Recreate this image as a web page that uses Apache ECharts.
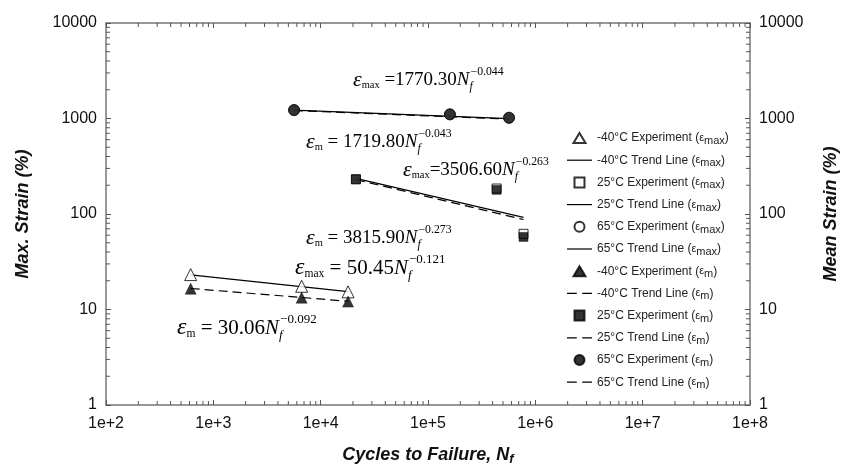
<!DOCTYPE html>
<html>
<head>
<meta charset="utf-8">
<title>Strain vs Cycles to Failure</title>
<script src="https://cdn.jsdelivr.net/npm/echarts@6/dist/echarts.min.js"></script>
<style>
  html, body { margin: 0; padding: 0; background: #fff; }
  #chart { width: 851px; height: 476px; }
</style>
</head>
<body>
<div id="chart"></div>
<script>
// -40°C experiments
const nCold = [615, 6650, 18000];
const maxCold = [23.2, 17.5, 15.3];
const meanCold = [16.5, 13.3, 12.1];
// 25°C experiments
const nRoom = [21300, 436000, 776000];
const maxRoom = [231, 185, 62];
const meanRoom = [231, 179, 57.5];
// 65°C experiments
const nHot = [5650, 160000, 569000];
const maxHot = [1225, 1105, 1020];
const meanHot = [1225, 1105, 1015];

// trend line end points
const trendColdN = [615, 18000];
const trendColdMax = [23.0, 15.4];
const trendColdMean = [16.6, 12.2];
const trendRoomN = [21300, 776000];
const trendRoomMax = [236, 92];
const trendRoomMean = [229, 87.5];
const trendHotN = [5650, 569000];
const trendHotMax = [1222, 995];
const trendHotMean = [1212, 985];

const legendNames = [
  '-40°C Experiment (εmax)', '-40°C Trend Line (εmax)',
  '25°C Experiment (εmax)', '25°C Trend Line (εmax)',
  '65°C Experiment (εmax)', '65°C Trend Line (εmax)',
  '-40°C Experiment (εm)', '-40°C Trend Line (εm)',
  '25°C Experiment (εm)', '25°C Trend Line (εm)',
  '65°C Experiment (εm)', '65°C Trend Line (εm)'
];

// minor tick positions (2..9 x 10^k)
const minorX = [];
for (let k = 2; k < 8; k++) for (let m = 2; m <= 9; m++) minorX.push(m * Math.pow(10, k));
const minorY = [];
for (let k = 0; k < 4; k++) for (let m = 2; m <= 9; m++) minorY.push(m * Math.pow(10, k));

const zip = (xs, ys) => xs.map((x, i) => [x, ys[i]]);

const axisColor = '#777';
const serif = '"Liberation Serif", "Times New Roman", serif';
const sans = '"Liberation Sans", Arial, sans-serif';

// legend icons: symbols for experiments, plain/dashed bars for trend lines
const triIcon = 'path://M6,0 L12,10 L0,10 Z';
const sqIcon = 'path://M0,0 h9 v9 h-9 z';
const solidIcon = 'path://M0,0 h25 v1.2 h-25 z';
const dashIcon = 'path://M0,0 h9 v1.2 h-9 z M14,0 h9 v1.2 h-9 z';
const legendIcons = [triIcon, solidIcon, sqIcon, solidIcon, 'circle', solidIcon,
  triIcon, dashIcon, sqIcon, dashIcon, 'circle', dashIcon];

function scatter(name, xs, ys, symbol, size, open) {
  return {
    name: name,
    type: 'scatter',
    data: zip(xs, ys),
    symbol: symbol,
    symbolSize: size,
    z: open ? 3 : 4,
    itemStyle: open
      ? { color: '#fff', borderColor: '#000', borderWidth: 1 }
      : { color: '#000', borderColor: '#000', borderWidth: 0.5 }
  };
}

function trend(name, xs, ys, dashed) {
  return {
    name: name,
    type: 'line',
    data: zip(xs, ys),
    symbol: 'none',
    z: 2,
    lineStyle: { color: '#000', width: 1.2, type: dashed ? [9, 5] : 'solid' },
    itemStyle: { color: '#000' }
  };
}

function tickSeries(values, isX) {
  return {
    type: 'custom',
    silent: true,
    clip: false,
    z: 1,
    data: values.map(v => isX ? [v, 1] : [100, v]),
    renderItem: function (params, api) {
      const style = { stroke: '#555', lineWidth: 1 };
      if (isX) {
        const v = api.value(0);
        const b = api.coord([v, 1]);
        const t = api.coord([v, 10000]);
        return { type: 'group', children: [
          { type: 'line', shape: { x1: b[0], y1: b[1], x2: b[0], y2: b[1] - 4 }, style: style },
          { type: 'line', shape: { x1: t[0], y1: t[1], x2: t[0], y2: t[1] + 4 }, style: style }
        ] };
      }
      const v = api.value(1);
      const l = api.coord([100, v]);
      const r = api.coord([1e8, v]);
      return { type: 'group', children: [
        { type: 'line', shape: { x1: l[0], y1: l[1], x2: l[0] + 4, y2: l[1] }, style: style },
        { type: 'line', shape: { x1: r[0], y1: r[1], x2: r[0] - 4, y2: r[1] }, style: style }
      ] };
    }
  };
}

// rich styles for the fitted equations
function eqRich(size) {
  return {
    e: { fontFamily: serif, fontStyle: 'italic', fontSize: size + 3, color: '#000' },
    s: { fontFamily: serif, fontSize: size * 0.55, padding: [size * 0.55, 0, 0, 0], color: '#000' },
    t: { fontFamily: serif, fontSize: size, color: '#000' },
    n: { fontFamily: serif, fontStyle: 'italic', fontSize: size, color: '#000' },
    f: { fontFamily: serif, fontStyle: 'italic', fontSize: size * 0.62, width: 1, padding: [size * 0.75, 0, 0, 0], color: '#000' },
    p: { fontFamily: serif, fontSize: size * 0.62, padding: [0, 0, size * 0.8, 0], color: '#000' }
  };
}

function equation(x, y, sub, text, power, size) {
  return {
    type: 'text',
    x: x,
    y: y,
    z: 10,
    style: {
      text: '{e|ε}{s|' + sub + '}{t|' + text + '}{n|N}{f|f}{p|' + power + '}',
      rich: eqRich(size),
      align: 'left',
      verticalAlign: 'middle'
    }
  };
}

const chart = echarts.init(document.getElementById('chart'));

const yAxisBase = {
  type: 'log',
  min: 1,
  max: 10000,
  logBase: 10,
  splitLine: { show: false },
  axisLine: { show: true, lineStyle: { color: axisColor, width: 1.5 } },
  axisTick: { show: true, inside: true, length: 5, lineStyle: { color: '#555' } },
  axisLabel: { color: '#111', fontFamily: sans, fontSize: 16, margin: 9, formatter: v => String(Math.round(v)) },
  nameLocation: 'middle',
  nameRotate: 90,
  nameTextStyle: { fontFamily: sans, fontSize: 18, fontWeight: 'bold', fontStyle: 'italic', color: '#111' }
};

const option = {
  animation: false,
  backgroundColor: '#fff',
  grid: { left: 106, right: 101, top: 23, bottom: 71 },
  xAxis: [
    {
      type: 'log',
      min: 100,
      max: 1e8,
      logBase: 10,
      position: 'bottom',
      splitLine: { show: false },
      axisLine: { show: true, lineStyle: { color: axisColor, width: 1.5 } },
      axisTick: { show: true, inside: true, length: 5, lineStyle: { color: '#555' } },
      axisLabel: {
        color: '#111', fontFamily: sans, fontSize: 16, margin: 11,
        formatter: v => '1e+' + Math.round(Math.log10(v))
      },
      name: '{a|Cycles to Failure, N}{b|f}',
      nameLocation: 'middle',
      nameGap: 40,
      nameTextStyle: {
        rich: {
          a: { fontFamily: sans, fontSize: 18, fontWeight: 'bold', fontStyle: 'italic', color: '#111' },
          b: { fontFamily: sans, fontSize: 13, fontWeight: 'bold', fontStyle: 'italic', color: '#111', padding: [8, 0, 0, 0] }
        }
      }
    },
    {
      type: 'log',
      min: 100,
      max: 1e8,
      logBase: 10,
      position: 'top',
      splitLine: { show: false },
      axisLine: { show: true, lineStyle: { color: axisColor, width: 1.5 } },
      axisTick: { show: true, inside: true, length: 5, lineStyle: { color: '#555' } },
      axisLabel: { show: false }
    }
  ],
  yAxis: [
    Object.assign({}, yAxisBase, { position: 'left', name: 'Max. Strain (%)', nameGap: 74 }),
    Object.assign({}, yAxisBase, { position: 'right', name: 'Mean Strain (%)', nameGap: 72 })
  ],
  legend: {
    data: legendNames.map((n, i) => ({ name: n, icon: legendIcons[i] })),
    orient: 'vertical',
    left: 562,
    top: 127,
    itemWidth: 25,
    itemHeight: 10,
    itemGap: 7.7,
    symbolKeepAspect: true,
    selectedMode: false,
    textStyle: {
      fontFamily: sans,
      fontSize: 12,
      color: '#222',
      rich: {
        e: { fontFamily: sans, fontSize: 11, color: '#222' },
        s: { fontFamily: sans, fontSize: 11, color: '#222', padding: [6, 0, 0, 0] }
      }
    },
    formatter: name => name.replace(/\(ε(max|m)\)$/, (m, s) => '({e|ε}{s|' + s + '})')
  },
  graphic: [
    equation(353, 80, 'max', ' =1770.30', '−0.044', 19),
    equation(306, 142, 'm', ' = 1719.80', '−0.043', 19),
    equation(403, 170, 'max', '=3506.60', '−0.263', 19),
    equation(306, 238, 'm', ' = 3815.90', '−0.273', 19),
    equation(295, 268, 'max', ' = 50.45', '−0.121', 21),
    equation(177, 328, 'm', ' = 30.06', '−0.092', 21)
  ],
  series: [
    scatter(legendNames[0], nCold, maxCold, 'triangle', 12, true),
    trend(legendNames[1], trendColdN, trendColdMax, false),
    scatter(legendNames[2], nRoom, maxRoom, 'rect', 9, true),
    trend(legendNames[3], trendRoomN, trendRoomMax, false),
    scatter(legendNames[4], nHot, maxHot, 'circle', 11, true),
    trend(legendNames[5], trendHotN, trendHotMax, false),
    scatter(legendNames[6], nCold, meanCold, 'triangle', 11, false),
    trend(legendNames[7], trendColdN, trendColdMean, true),
    scatter(legendNames[8], nRoom, meanRoom, 'rect', 9, false),
    trend(legendNames[9], trendRoomN, trendRoomMean, true),
    scatter(legendNames[10], nHot, meanHot, 'circle', 11, false),
    trend(legendNames[11], trendHotN, trendHotMean, true),
    tickSeries(minorX, true),
    tickSeries(minorY, false)
  ]
};

chart.setOption(option);
</script>
</body>
</html>
